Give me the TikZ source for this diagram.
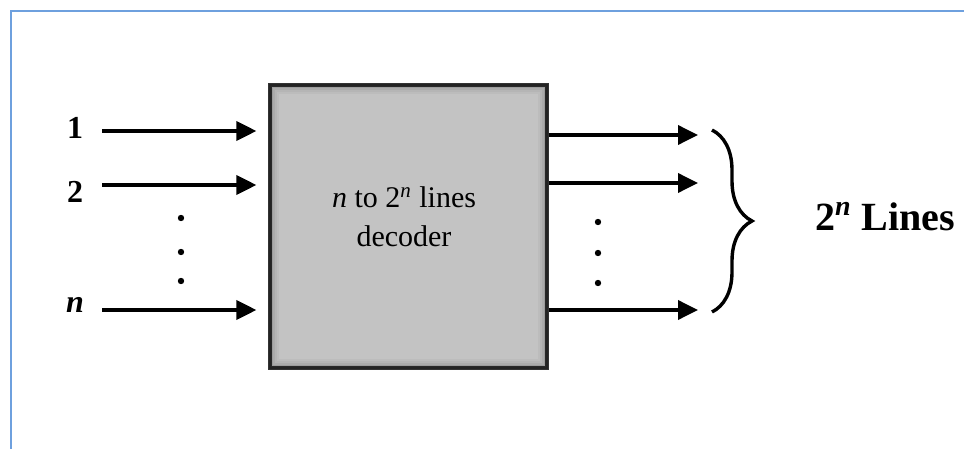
\documentclass[tikz,border=0pt]{standalone}
\usepackage{fontspec}
\setmainfont{Liberation Serif}
\usetikzlibrary{arrows.meta, positioning, calc, decorations.pathreplacing}
\definecolor{boxgray}{RGB}{195,195,195}
\definecolor{frameblue}{RGB}{110,160,222}
\tikzset{
  sig/.style={line width=1.8pt, -{Triangle[length=10pt, width=9.5pt]}},
  decbox/.style={draw=black!80, line width=1.6pt, fill=boxgray,
    minimum width=138.5pt, minimum height=141.5pt, inner sep=0pt},
  pinlabel/.style={font=\fontsize{16}{18}\selectfont\bfseries, inner sep=0pt},
  vdot/.style={fill=black}
}

\begin{document}
\begin{tikzpicture}[x=0.5pt, y=-0.5pt]
  \useasboundingbox (0,0) rectangle (964,449);
  % frame
  \draw[frameblue, line width=1.1pt] (11,449) -- (11,11) -- (964,11);

  % decoder box with inner shadow
  \node[decbox] (dec) at (408.5,226.5) {};
  \foreach \k/\o in {2/0.30, 4/0.20, 6/0.12, 8/0.07, 10/0.03} {
    \draw[black, opacity=\o, line width=1pt]
      ($(dec.north west)+(\k,\k)$) rectangle ($(dec.south east)+(-\k,-\k)$);
  }
  \node[align=center, font=\fontsize{15}{19.5}\selectfont] (dectext) at (404,217)
    {\textit{n} to 2\textsuperscript{\textit{n}} lines\\decoder};

  % inputs
  \node[pinlabel] (in1) at (75,128) {1};
  \node[pinlabel] (in2) at (75,192) {2};
  \node[pinlabel] (inn) at (75,305) {\textit{n}};
  \coordinate (i1) at (102,131);
  \coordinate (i2) at (102,185);
  \coordinate (in) at (102,310);
  \foreach \c in {i1,i2,in} {
    \draw[sig, shorten >=6pt] (\c) -- (\c -| dec.west);
  }
  \foreach \y in {218,252,281} {
    \fill[vdot] (181,\y) circle (1.6pt);
  }

  % outputs
  \coordinate (o1) at (698,135);
  \coordinate (o2) at (698,183);
  \coordinate (on) at (698,310);
  \foreach \c in {o1,o2,on} {
    \draw[sig] (\c -| dec.east) -- (\c);
  }
  \foreach \y in {222,253,283} {
    \fill[vdot] (598,\y) circle (1.6pt);
  }

  % brace and label
  \coordinate (bt) at (712,130);
  \coordinate (bb) at (712,312);
  \draw[line width=1.7pt, decorate, decoration={brace, amplitude=20pt}] (bt) -- (bb);
  \node[font=\fontsize{20}{24}\selectfont\bfseries, anchor=west] (outlines) at (808,217)
    {2\textsuperscript{\textit{n}} Lines};
\end{tikzpicture}
\end{document}
